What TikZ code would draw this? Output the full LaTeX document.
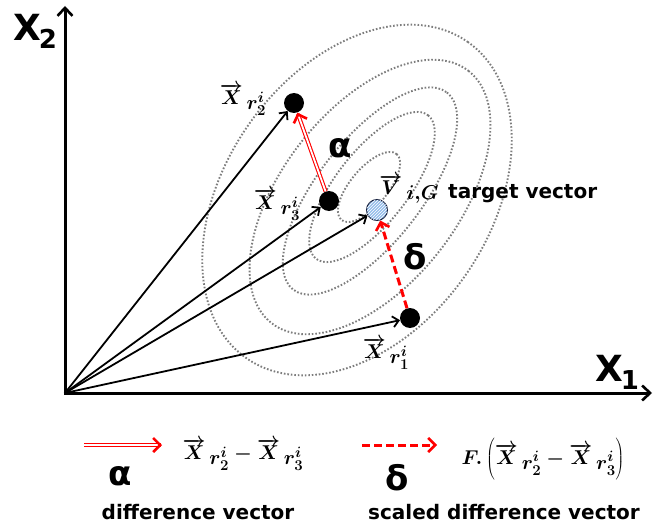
\RequirePackage{fix-cm}
\documentclass[tikz,border=0pt]{standalone}
\usepackage{fontspec}
\newfontfamily\labfont{DejaVu Sans}
\DeclareMathSizes{20}{20}{15}{11}
\usetikzlibrary{arrows.meta,patterns,decorations.markings}
\newcommand\vlab[2]{\overrightarrow{#1}\,\raisebox{-5pt}{$#2$}}
\begin{document}
\begin{tikzpicture}[x=1pt,y=-1pt,
  axisline/.style={line width=3pt,-{Straight Barb[length=8pt,width=15pt,line width=2.6pt]}},
  vecarrow/.style={line width=1.8pt,-{Straight Barb[length=6pt,width=11pt,line width=1.8pt]}},
  ball/.style={circle,fill=black,minimum size=20pt,inner sep=0pt},
  target/.style={circle,draw={rgb,255:red,20;green,30;blue,60},line width=1pt,fill={rgb,255:red,150;green,190;blue,235},postaction={pattern=north east lines,pattern color=white},minimum size=21pt,inner sep=0pt},
  contour/.style={draw={rgb,255:red,125;green,125;blue,125},line width=1.9pt,dash pattern=on 1.6pt off 1.9pt},
  mathlab/.style={font=\fontsize{20}{24}\selectfont\boldmath, inner sep=0pt},
  boldlab/.style={font=\labfont\bfseries\fontsize{20}{24}\selectfont, inner sep=0pt},
  greek/.style={font=\labfont\bfseries\fontsize{34}{40}\selectfont, inner sep=0pt},
  axislab/.style={font=\labfont\bfseries\fontsize{36}{40}\selectfont, inner sep=0pt, anchor=base west},
  doublered/.style={draw=red,line width=1.1pt,double=white,double distance=1.8pt,shorten >=1.5pt},
  redtip/.style={postaction={decorate},decoration={markings,mark=at position 1 with {\arrow{Straight Barb[length=7pt,width=14pt,line width=2.6pt,color=red]}}}},
  dashedred/.style={draw=red,line width=3pt,dash pattern=on 8pt off 4pt,-{Straight Barb[length=7pt,width=14pt,line width=2.6pt]}},
]
\useasboundingbox (0,0) rectangle (654,527);

% contour ellipses
\draw[contour, rotate around={55:(357,200)}] (357,200) ellipse [x radius=193, y radius=132];
\draw[contour, rotate around={52:(370,197)}] (370,197) ellipse [x radius=160, y radius=88];
\draw[contour, rotate around={52:(370,191)}] (370,191) ellipse [x radius=125, y radius=52];
\draw[contour, rotate around={52:(372,187)}] (372,187) ellipse [x radius=91, y radius=36];
\draw[contour, rotate around={50:(369,187)}] (369,187) ellipse [x radius=43, y radius=18.6];

% axes
\coordinate (O) at (65,393);
\coordinate (Oy) at (65,394.5);
\coordinate (Ox) at (63.5,393);
\coordinate (ytop) at (65,6);
\coordinate (xend) at (652,393);
\draw[axisline] (Oy) -- (ytop);
\draw[axisline] (Ox) -- (xend);
\node[axislab] (x2) at (13,41) {X\kern-2pt\raisebox{-8pt}{\fontsize{26}{28}\selectfont 2}};
\node[axislab] (x1) at (595,381) {X\kern-2pt\raisebox{-8pt}{\fontsize{26}{28}\selectfont 1}};

% points
\node[ball] (r2) at (294,103) {};
\node[ball] (r3) at (329,201) {};
\node[ball] (r1) at (410,318) {};
\node[target] (v) at (377,210) {};

% vectors from origin
\draw[vecarrow] (O) -- (r2);
\draw[vecarrow] (O) -- (r3);
\draw[vecarrow] (O) -- (v);
\draw[vecarrow] (O) -- (r1);

% difference vectors
\draw[doublered] (r3) -- (r2);
\path[redtip] (r3) -- (r2);
\draw[dashedred] (r1) -- (v);

% labels
\node[mathlab] (lr2) at (243,100) {$\vlab{X}{r_2^i}$};
\node[mathlab] (lr3) at (277,205) {$\vlab{X}{r_3^i}$};
\node[mathlab] (lr1) at (386,354) {$\vlab{X}{r_1^i}$};
\node[mathlab] (lv) at (409,189) {$\vlab{V}{i{,}G}$};
\node[boldlab, anchor=west] (tv) at (448,194) {target vector};
\node[greek] (alpha) at (340,148) {α};
\node[greek] (delta) at (415,257) {δ};

% legend
\coordinate (la1) at (84,445);
\coordinate (la2) at (162,445);
\draw[doublered] (la1) -- (la2);
\path[redtip] (la1) -- (la2);
\node[greek] (alpha2) at (120,476) {α};
\node[mathlab] (f1) at (243,455) {$\vlab{X}{r_2^i}-\vlab{X}{r_3^i}$};
\node[boldlab] (d1) at (198,512) {difference vector};
\coordinate (lb1) at (362,445);
\coordinate (lb2) at (437,445);
\draw[dashedred] (lb1) -- (lb2);
\node[greek] (delta2) at (397,478) {δ};
\node[mathlab] (f2) at (543,459) {$F.\left(\rule[-14pt]{0pt}{40pt}\vlab{X}{r_2^i}-\vlab{X}{r_3^i}\right)$};
\node[boldlab] (d2) at (504,512) {scaled difference vector};
\end{tikzpicture}
\end{document}
